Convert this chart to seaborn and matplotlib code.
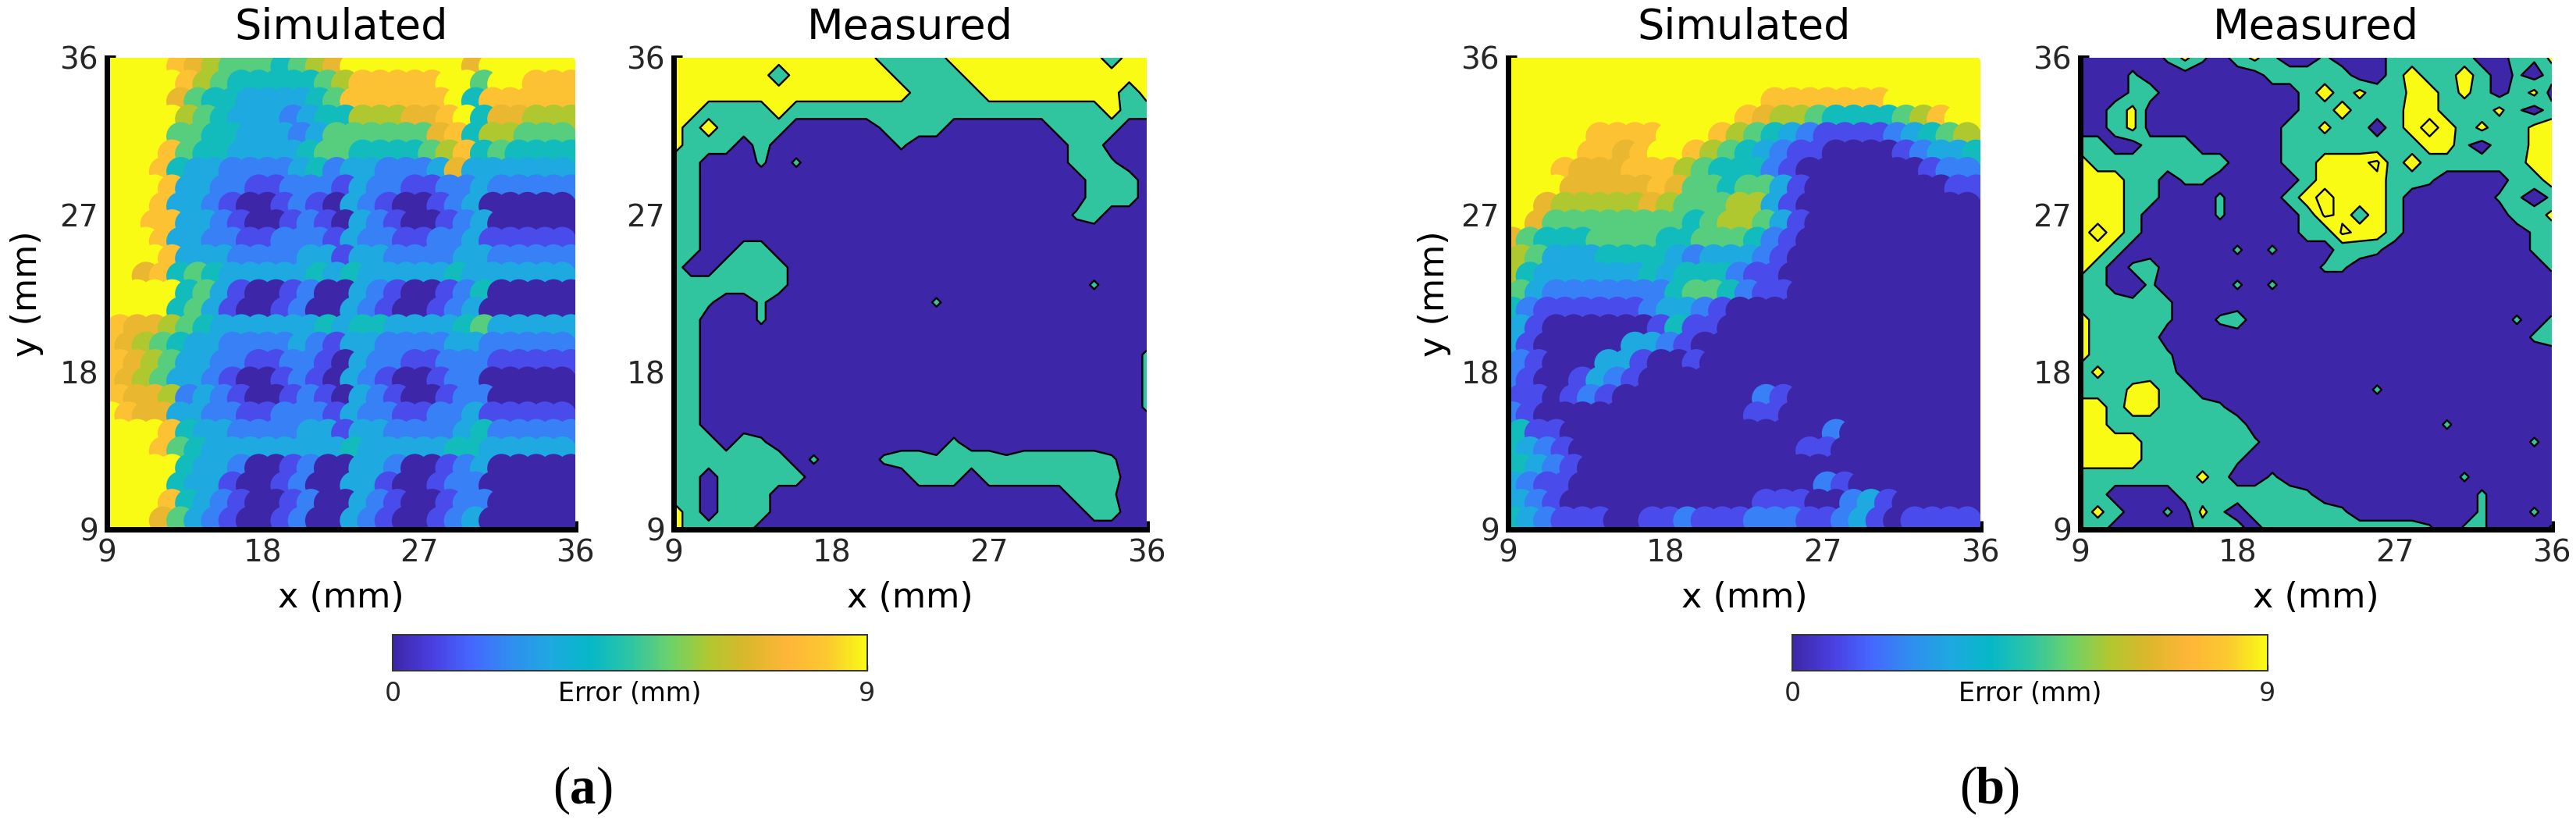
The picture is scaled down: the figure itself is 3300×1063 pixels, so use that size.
import numpy as np
import pandas as pd
import matplotlib
matplotlib.use("Agg")
import matplotlib.pyplot as plt
from matplotlib.colors import LinearSegmentedColormap, Normalize
from matplotlib.colorbar import ColorbarBase
import seaborn as sns

W, H = 3300, 1063
TICKS = [9, 18, 27, 36]
ERROR_RANGE = (0, 9)
CONTOUR_LEVELS = [2.5, 6, 8.5]
PARULA = ["#3e26a8", "#4a3fe0", "#4668ff", "#2f8ef0", "#1ea9e0", "#06b8c8",
          "#2dc5a5", "#6ad26b", "#b0c830", "#dcb72b", "#ffb638", "#fcc830", "#f9fb15"]
BAND_COLOURS = ["#3e26a8", "#31c59f", "#f9fb15", "#f9fb15"]

# Error (mm), one digit per 1 mm cell; rows run from y = 35.5 down to y = 9.5
sim_a = [
"9999 87655545 67 9999999 7 99999",
"9999 86544444 56 8888899 5 99888",
"9999 75443333 45 8888889 4 88888",
"9999 65433323 44 6667789 4 77666",
"9999 55443332 35 5555578 4 66555",
"9998 54433334 55 4444568 4 54444",
"9998 43322223 42 3322237 3 33333",
"9998 33221122 21 3221122 3 22222",
"9998 33210012 10 3210012 3 00000",
"9988 33210012 10 3210012 3 00000",
"9998 33221122 21 3221122 3 11111",
"9998 33322223 31 3322223 3 22222",
"9978 45433333 43 4333334 3 33333",
"9999 45310012 00 3210012 4 00000",
"9999 45310012 00 3210012 3 00000",
"8776 54333333 43 4433334 5 33333",
"8765 43322223 21 3322223 3 22222",
"8765 33221122 10 3221122 2 11111",
"8765 33210012 10 3210012 2 00000",
"8776 23210012 10 3210012 2 00000",
"9877 33221122 21 3221122 3 11111",
"9998 43322223 31 3322223 4 22222",
"9998 54333333 33 4333334 4 33333",
"9999 43320012 00 3320012 3 00000",
"9999 43310012 00 3310012 2 00000",
"9998 43210012 00 3210012 2 00000",
"9997 53210012 00 3210012 3 00000",
]

sim_b = [
"99999 99999 99999 99999 99999 99",
"99999 99999 99999 99999 99999 99",
"99999 99999 99999 88888 88999 99",
"99999 99999 99987 66544 44568 99",
"99999 88889 99865 43211 11234 56",
"99998 87899 86543 21100 00123 34",
"99987 77888 65444 21000 00001 22",
"99977 77787 55455 31000 00000 11",
"99766 66676 55566 31000 00000 00",
"97555 55555 45665 31000 00000 00",
"75444 55554 45554 21000 00000 00",
"65333 44443 23332 10000 00000 00",
"64333 33343 44421 10000 00000 00",
"53222 22224 55421 10000 00000 00",
"42111 11123 32100 00000 00000 00",
"31000 00014 11000 00000 00000 00",
"31000 00332 10000 00000 00000 00",
"21000 33100 10000 00000 00000 00",
"21001 32100 00000 00000 00000 00",
"11012 10000 00002 10000 00000 00",
"21000 00000 00001 10000 00000 00",
"41100 00000 00000 00020 00000 00",
"43210 00000 00000 00110 00000 00",
"43210 00000 00000 00000 00000 00",
"32110 00000 00000 00021 00000 00",
"32100 00000 00001 11002 31000 00",
"43211 10011 21112 22112 31011 11",
]

# Error (mm) at 1 mm grid nodes; rows run from y = 36 down to y = 9, columns x = 9 to 36
meas_a = [
"88888 88888 88444 48888 88888 388",
"88888 83888 88844 44888 88888 888",
"88888 88888 88884 44488 88888 838",
"88444 48444 44444 44444 44444 844",
"84844 44111 11344 41111 11444 411",
"84441 41111 11131 11111 11144 111",
"44111 31311 11111 11111 11144 311",
"44111 11111 11111 11111 11114 441",
"44111 11111 11111 11111 11114 441",
"44111 11111 11111 11111 11134 111",
"44111 11111 11111 11111 11111 111",
"44114 41111 11111 11111 11111 111",
"41144 44111 11111 11111 11111 111",
"44444 44111 11111 11111 11113 111",
"44311 31111 11111 31111 11111 111",
"44111 31111 11111 11111 11111 111",
"44111 11111 11111 11111 11111 111",
"44111 11111 11111 11111 11111 113",
"44111 11111 11111 11111 11111 113",
"44111 11111 11111 11111 11111 113",
"44111 11111 11111 11111 11111 113",
"44111 11111 11111 11111 11111 111",
"44414 31111 11111 13111 11111 111",
"44444 44131 11344 34443 44444 311",
"44144 44411 11114 44144 44444 411",
"44144 41111 11111 11111 11144 311",
"84144 41111 11111 11111 11114 411",
"84444 11111 11111 11111 11111 111",
]

meas_b = [
"11111 37314 73113 11144 44411 437",
"11131 11111 14444 41148 44841 314",
"11134 11111 11148 47447 84741 471",
"11471 11111 11144 84448 84447 314",
"11471 11111 11447 44148 98474 478",
"44114 44111 11444 44444 88314 478",
"84444 44441 11448 88948 44444 488",
"88844 13311 11148 88844 31111 448",
"88844 11131 11489 88841 11113 313",
"88841 11131 11149 84841 11111 447",
"89841 11111 11144 98841 11111 134",
"88411 11113 13111 44311 11111 134",
"84134 11111 11113 31111 11111 113",
"44113 11113 13111 11111 11111 111",
"44434 31111 11111 11111 11111 111",
"84444 31134 11111 11111 11111 313",
"84444 11111 11111 11111 11111 134",
"84443 31111 11111 11111 11111 111",
"47444 41111 11111 11111 11111 111",
"44478 44111 11111 11311 11111 111",
"88488 44431 11111 11111 11111 111",
"88444 44444 11111 11111 13111 111",
"88884 44444 31111 11111 11111 131",
"88884 44443 11111 11111 11111 111",
"44444 44741 13111 11111 11311 111",
"44111 14444 44431 11111 11131 111",
"47411 31731 44444 31111 11131 131",
"44111 11444 14444 44444 31331 113",
]


def grid(rows):
    return np.array([[int(c) for c in r if c != " "] for r in rows], dtype=float)


sns.set_theme(style="white", rc={"font.family": "DejaVu Sans"})
plt.rcParams["font.family"] = ["DejaVu Sans"]
cmap = LinearSegmentedColormap.from_list("parula_like", PARULA)
norm = Normalize(*ERROR_RANGE)
fig = plt.figure(figsize=(W / 100, H / 100), dpi=100, facecolor="white")


def px_axes(l, t, r, b):
    return fig.add_axes([l / W, 1 - b / H, (r - l) / W, (b - t) / H])


def style(ax, title, ylabel, ylabel_px=0):
    ax.set_xlim(9, 36)
    ax.set_ylim(9, 36)
    ax.set_xticks(TICKS)
    ax.set_yticks(TICKS)
    sns.despine(ax=ax)
    for s in ("left", "bottom"):
        ax.spines[s].set_linewidth(5)
        ax.spines[s].set_color("black")
    ax.tick_params(direction="in", length=8, width=5, labelsize=28, pad=8, color="black",
                   left=True, bottom=True)
    ax.set_title(title, fontsize=39, pad=17, color="black")
    ax.set_xlabel("x (mm)", fontsize=32, color="black", va="center")
    ax.xaxis.set_label_coords(0.5, -88 / 604)
    ax.set_ylabel(ylabel, fontsize=32, color="black", va="center")
    ax.yaxis.set_label_coords(ylabel_px / 600, 0.5)


def simulated(rect, rows, ylabel_px):
    ax = px_axes(*rect)
    z = grid(rows)
    ys = 35.5 - np.arange(z.shape[0])
    xs = 9.5 + np.arange(z.shape[1])
    xx, yy = np.meshgrid(xs, ys)
    xx = xx + np.where(np.arange(z.shape[0]) % 2 == 0, -0.25, 0.25)[:, None]
    df = pd.DataFrame({"x": xx.ravel(), "y": yy.ravel(), "e": z.ravel()})
    sns.scatterplot(data=df, x="x", y="y", hue="e", palette=cmap, hue_norm=norm,
                    s=700, linewidth=0, legend=False, ax=ax)
    style(ax, "Simulated", "y (mm)", ylabel_px)
    return ax


def measured(rect, rows):
    ax = px_axes(*rect)
    z = grid(rows)
    ys = 36 - np.arange(z.shape[0])
    xs = 9 + np.arange(z.shape[1])
    lv = [-1] + CONTOUR_LEVELS + [100]
    ax.contourf(xs, ys, z, levels=lv, colors=BAND_COLOURS)
    ax.contour(xs, ys, z, levels=CONTOUR_LEVELS, colors="black", linewidths=1.7)
    style(ax, "Measured", "")
    return ax


def colorbar(l, r):
    cax = px_axes(l, 813, r, 859)
    cb = ColorbarBase(cax, cmap=cmap, norm=norm, orientation="horizontal")
    cb.set_ticks([0, 1.8, 3.6, 5.4, 7.2, 9], labels=["0", "", "", "", "", "9"])
    cax.tick_params(axis="x", direction="in", length=6, width=1, labelsize=24, pad=9,
                    color="#333333", bottom=True)
    cb.outline.set_linewidth(1.4)
    cb.outline.set_edgecolor("#333333")
    cax.text(0.5, -0.28, "Error (mm)", transform=cax.transAxes, ha="center", va="top", fontsize=24,
             color="black")


def caption(cx, letter):
    y = 1 - 1012 / H
    kw = dict(family="Liberation Serif", fontsize=48, va="center", color="black")
    fig.text((cx - 17) / W, y, "(", ha="right", **kw)
    fig.text(cx / W, y, letter, ha="center", fontweight="bold", **kw)
    fig.text((cx + 17) / W, y, ")", ha="left", **kw)


simulated((137, 74, 737, 678), sim_a, -103)
measured((863, 74, 1469, 678), meas_a)
simulated((1932, 74, 2537, 678), sim_b, -94)
measured((2665, 74, 3269, 678), meas_b)
colorbar(503, 1111)
colorbar(2296, 2905)
caption(747, "a")
caption(2549, "b")

fig.savefig("out.png", dpi=100, facecolor="white")
